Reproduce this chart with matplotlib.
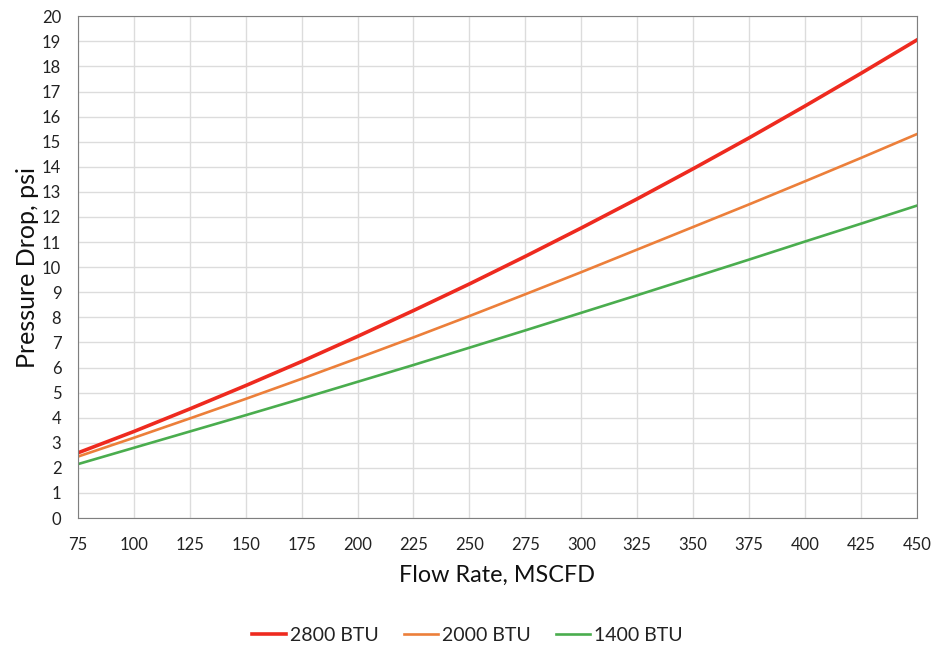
import matplotlib.pyplot as plt

plt.rcParams['font.family'] = ['Lato', 'DejaVu Sans']

# Data
flow = [75, 100, 125, 150, 175, 200, 225, 250, 275, 300, 325, 350, 375, 400, 425, 450]
btu_2800 = [2.6, 3.45, 4.35, 5.28, 6.24, 7.24, 8.27, 9.33, 10.43, 11.56, 12.72, 13.92, 15.15, 16.42, 17.72, 19.05]
btu_2000 = [2.45, 3.2, 3.97, 4.75, 5.55, 6.37, 7.2, 8.05, 8.92, 9.8, 10.7, 11.6, 12.5, 13.42, 14.35, 15.3]
btu_1400 = [2.15, 2.8, 3.45, 4.1, 4.76, 5.43, 6.1, 6.79, 7.48, 8.18, 8.88, 9.59, 10.3, 11.02, 11.73, 12.45]

fig = plt.figure(figsize=(9.34, 6.5), dpi=100)
ax = fig.add_axes([0.0835, 0.203, 0.898, 0.772])

ax.plot(flow, btu_2800, color='#ee2a1f', lw=2.6, label='2800 BTU')
ax.plot(flow, btu_2000, color='#ec7f3a', lw=1.9, label='2000 BTU')
ax.plot(flow, btu_1400, color='#4aad4e', lw=1.9, label='1400 BTU')

ax.set_xlim(75, 450)
ax.set_ylim(0, 20)
ax.set_xticks(range(75, 451, 25))
ax.set_yticks(range(0, 21))
ax.grid(True, color='#dcdcdc', lw=1)
ax.set_axisbelow(True)
for s in ax.spines.values():
    s.set_color('#7f7f7f')
ax.tick_params(length=0, labelsize=12, colors='#222222')
ax.tick_params(axis='x', pad=14)
ax.tick_params(axis='y', pad=12)

ax.set_xlabel('Flow Rate, MSCFD', fontsize=16.8, color='#111111', labelpad=8)
ax.set_ylabel('Pressure Drop, psi', fontsize=18, color='#111111', labelpad=2)

fig.legend(loc='center', bbox_to_anchor=(0.5, 0.023), ncol=3, frameon=False,
           fontsize=14, handlelength=1.75, handletextpad=0.2, columnspacing=1.3,
           labelcolor='#222222')

plt.savefig('out.png')
